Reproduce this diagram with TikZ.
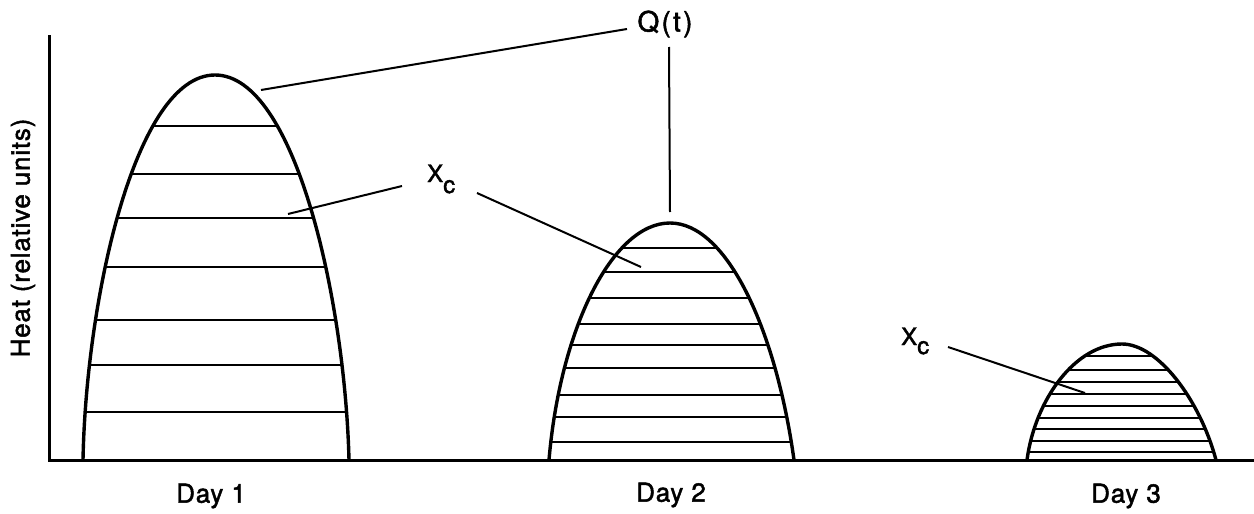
\documentclass[tikz,border=0pt]{standalone}
\usepackage{fontspec}
\setmainfont{TeX Gyre Heros}[LetterSpace=3,FakeBold=1.8]
\begin{document}
\begin{tikzpicture}[x=1pt,y=-1pt,
  hump/.style={line width=3.4pt,line join=round},
  hatch/.style={line width=2pt},
  axisline/.style={line width=3pt,line join=miter},
  leader/.style={line width=2pt},
  lbl/.style={font=\fontsize{26}{30}\selectfont,inner sep=0pt},
  biglbl/.style={font=\fontsize{28}{32}\selectfont\addfontfeatures{LetterSpace=8},inner sep=0pt},
  sublbl/.style={font=\fontsize{24}{28}\selectfont,inner sep=0pt}]
\useasboundingbox (0,0) rectangle (1254,514);
\fill[white] (0,0) rectangle (1254,514);

\def\humpA{(83,460) .. controls (86,300) and (135,75) .. (215,75) .. controls (295,75) and (345,300) .. (349,460)}
\def\humpB{(549,460) .. controls (560,330) and (612,223) .. (670,223) .. controls (727,223) and (776,330) .. (794,460)}
\def\humpC{(1027,460) .. controls (1035,400) and (1075,344) .. (1122,344) .. controls (1158,344) and (1200,400) .. (1216,460)}

% hatching
\begin{scope}
  \clip \humpA -- cycle;
  \foreach \yy in {126,174,218,267,320,365,412}
    \draw[hatch] (60,\yy) -- (400,\yy);
\end{scope}
\begin{scope}
  \clip \humpB -- cycle;
  \foreach \yy in {248,272,298,324,345,368,395,417,442}
    \draw[hatch] (530,\yy) -- (820,\yy);
\end{scope}
\begin{scope}
  \clip \humpC -- cycle;
  \foreach \yy in {356,370,382,394,406,418,429,441,452}
    \draw[hatch] (1010,\yy) -- (1230,\yy);
\end{scope}

% outlines
\draw[hump] \humpA;
\draw[hump] \humpB;
\draw[hump] \humpC;

% axes
\coordinate (ytop) at (49,35);
\coordinate (origin) at (49,460);
\coordinate (xend) at (1254,460);
\draw[axisline] (ytop) -- (origin) -- (xend);

% labels
\node[biglbl] (q) at (665,24) {Q(t)};
\node[sublbl,anchor=base west] (xc1) at (427,182) {X\raisebox{-11pt}{c}};
\node[sublbl,anchor=base west] (xc2) at (901,345) {X\raisebox{-9pt}{c}};
\node[lbl] (day1) at (211,496) {Day 1};
\node[lbl] (day2) at (671,495) {Day 2};
\node[lbl] (day3) at (1126,496) {Day 3};
\node[lbl,rotate=90] (ylab) at (23,238) {Heat (relative units)};

% leader lines
\coordinate (qa) at (627,29);
\coordinate (qa1) at (261,90);
\coordinate (qb) at (669,47);
\coordinate (qb1) at (670,212);
\coordinate (xa) at (402,186);
\coordinate (xa1) at (288,214);
\coordinate (xb) at (477,193);
\coordinate (xb1) at (641,267);
\coordinate (xd) at (948,347);
\coordinate (xd1) at (1085,393);
\draw[leader] (qa) -- (qa1);
\draw[leader] (qb) -- (qb1);
\draw[leader] (xa) -- (xa1);
\draw[leader] (xb) -- (xb1);
\draw[leader] (xd) -- (xd1);
\end{tikzpicture}
\end{document}
